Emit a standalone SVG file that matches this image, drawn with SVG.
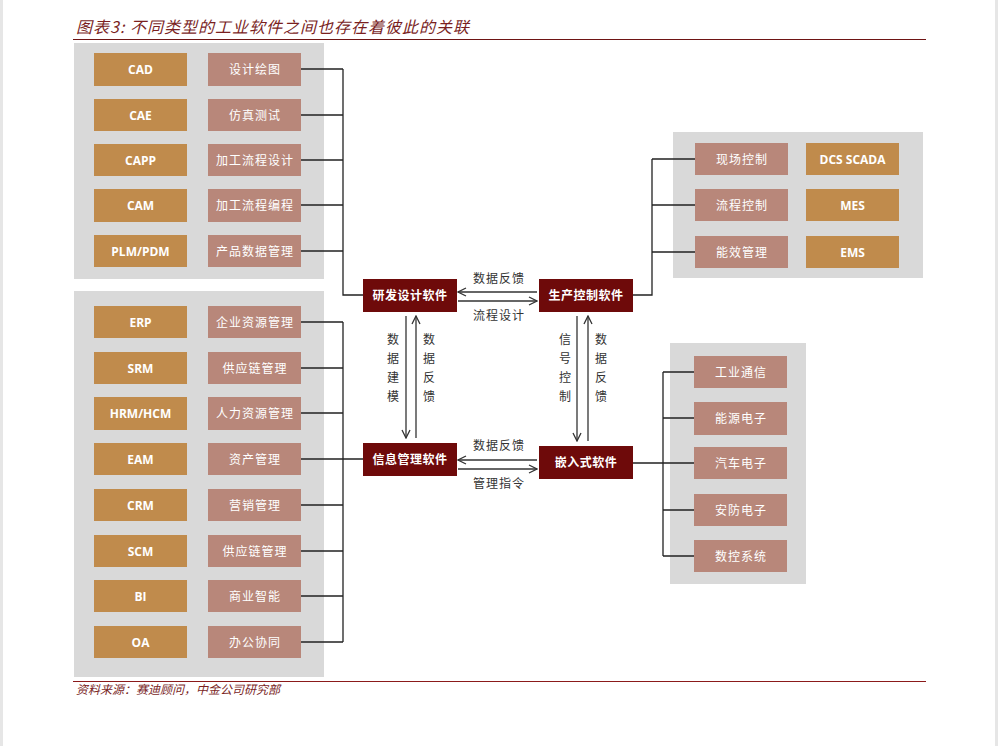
<svg xmlns="http://www.w3.org/2000/svg" width="998" height="746" viewBox="0 0 998 746">
<defs>
<marker id="ah" viewBox="0 0 10 10" refX="9" refY="5" markerWidth="10" markerHeight="10" markerUnits="userSpaceOnUse" orient="auto">
<path d="M1,1 L9,5 L1,9" fill="none" stroke="#333" stroke-width="1.3"/>
</marker>
<style>
.panel{fill:#D9D9D9}
.gold{fill:#C08B4C}
.rose{fill:#B8877A}
.core{fill:#6E0A0A}
.en{font-family:"Open Sans","Liberation Sans",sans-serif;font-weight:bold;font-size:12px;fill:#fff;text-anchor:middle}
.cn{font-family:"Noto Sans CJK SC",sans-serif;font-size:12px;fill:#fff;text-anchor:middle;letter-spacing:1px}
.cc{font-family:"Noto Sans CJK SC",sans-serif;font-weight:bold;font-size:12px;fill:#fff;text-anchor:middle;letter-spacing:0.5px}
.lb{font-family:"Noto Sans CJK SC",sans-serif;font-size:12px;fill:#333;text-anchor:middle;letter-spacing:1px}
.vl{font-family:"Noto Sans CJK SC",sans-serif;font-size:12px;fill:#333;text-anchor:middle}
.ln{fill:none;stroke:#222;stroke-width:1.3}
.ar{fill:none;stroke:#333;stroke-width:1.3;marker-end:url(#ah)}
.hd{font-family:"Noto Sans CJK SC",serif;font-style:italic;fill:#7A1F1F}
</style>
</defs>
<rect x="0" y="0" width="998" height="746" fill="#fff"/>
<rect x="0" y="0" width="3" height="746" fill="#E6E6E6"/>
<rect x="995" y="0" width="3" height="746" fill="#E6E6E6"/>

<g id="title">
<text class="hd" x="76" y="33" font-size="16" letter-spacing="1">图表3:  不同类型的工业软件之间也存在着彼此的关联</text>
<line x1="73" y1="39.5" x2="926" y2="39.5" stroke="#6E1414" stroke-width="1.2"/>
</g>

<g id="panel-design">
<rect class="panel" x="74" y="43" width="250" height="236"/>
<g id="n-cad"><rect class="gold" x="94" y="53" width="93" height="33"/><text class="en" x="140.5" y="74">CAD</text></g>
<g id="n-cae"><rect class="gold" x="94" y="99" width="93" height="32"/><text class="en" x="140.5" y="119.5">CAE</text></g>
<g id="n-capp"><rect class="gold" x="94" y="144" width="93" height="32"/><text class="en" x="140.5" y="164.5">CAPP</text></g>
<g id="n-cam"><rect class="gold" x="94" y="189" width="93" height="33"/><text class="en" x="140.5" y="210">CAM</text></g>
<g id="n-plm"><rect class="gold" x="94" y="235" width="93" height="32"/><text class="en" x="140.5" y="255.5">PLM/PDM</text></g>
<g id="n-sjht"><rect class="rose" x="208" y="53" width="93" height="33"/><text class="cn" x="255" y="74">设计绘图</text></g>
<g id="n-fzcs"><rect class="rose" x="208" y="99" width="93" height="32"/><text class="cn" x="255" y="119.5">仿真测试</text></g>
<g id="n-jglcsj"><rect class="rose" x="208" y="144" width="93" height="32"/><text class="cn" x="255" y="164.5">加工流程设计</text></g>
<g id="n-jglcbc"><rect class="rose" x="208" y="189" width="93" height="33"/><text class="cn" x="255" y="210">加工流程编程</text></g>
<g id="n-cpsjgl"><rect class="rose" x="208" y="235" width="93" height="32"/><text class="cn" x="255" y="255.5">产品数据管理</text></g>
</g>

<g id="panel-info">
<rect class="panel" x="74" y="291" width="250" height="386"/>
<g id="n-erp"><rect class="gold" x="94" y="306" width="93" height="32"/><text class="en" x="140.5" y="326.5">ERP</text></g>
<g id="n-srm"><rect class="gold" x="94" y="352" width="93" height="32"/><text class="en" x="140.5" y="372.5">SRM</text></g>
<g id="n-hrm"><rect class="gold" x="94" y="397" width="93" height="33"/><text class="en" x="140.5" y="418">HRM/HCM</text></g>
<g id="n-eam"><rect class="gold" x="94" y="443" width="93" height="32"/><text class="en" x="140.5" y="463.5">EAM</text></g>
<g id="n-crm"><rect class="gold" x="94" y="489" width="93" height="32"/><text class="en" x="140.5" y="509.5">CRM</text></g>
<g id="n-scm"><rect class="gold" x="94" y="535" width="93" height="32"/><text class="en" x="140.5" y="555.5">SCM</text></g>
<g id="n-bi"><rect class="gold" x="94" y="580" width="93" height="32"/><text class="en" x="140.5" y="600.5">BI</text></g>
<g id="n-oa"><rect class="gold" x="94" y="626" width="93" height="32"/><text class="en" x="140.5" y="646.5">OA</text></g>
<g id="n-qyzygl"><rect class="rose" x="208" y="306" width="93" height="32"/><text class="cn" x="255" y="326.5">企业资源管理</text></g>
<g id="n-gyl1"><rect class="rose" x="208" y="352" width="93" height="32"/><text class="cn" x="255" y="372.5">供应链管理</text></g>
<g id="n-rlzygl"><rect class="rose" x="208" y="397" width="93" height="33"/><text class="cn" x="255" y="418">人力资源管理</text></g>
<g id="n-zcgl"><rect class="rose" x="208" y="443" width="93" height="32"/><text class="cn" x="255" y="463.5">资产管理</text></g>
<g id="n-yxgl"><rect class="rose" x="208" y="489" width="93" height="32"/><text class="cn" x="255" y="509.5">营销管理</text></g>
<g id="n-gyl2"><rect class="rose" x="208" y="535" width="93" height="32"/><text class="cn" x="255" y="555.5">供应链管理</text></g>
<g id="n-syzn"><rect class="rose" x="208" y="580" width="93" height="32"/><text class="cn" x="255" y="600.5">商业智能</text></g>
<g id="n-bgxt"><rect class="rose" x="208" y="626" width="93" height="32"/><text class="cn" x="255" y="646.5">办公协同</text></g>
</g>

<g id="panel-control">
<rect class="panel" x="673" y="132" width="250" height="146"/>
<g id="n-xckz"><rect class="rose" x="695" y="143" width="93" height="32"/><text class="cn" x="742" y="163.5">现场控制</text></g>
<g id="n-lckz"><rect class="rose" x="695" y="189" width="93" height="32"/><text class="cn" x="742" y="209.5">流程控制</text></g>
<g id="n-nxgl"><rect class="rose" x="695" y="236" width="93" height="32"/><text class="cn" x="742" y="256.5">能效管理</text></g>
<g id="n-dcs"><rect class="gold" x="806" y="143" width="93" height="32"/><text class="en" x="852.5" y="163.5">DCS SCADA</text></g>
<g id="n-mes"><rect class="gold" x="806" y="189" width="93" height="32"/><text class="en" x="852.5" y="209.5">MES</text></g>
<g id="n-ems"><rect class="gold" x="806" y="236" width="93" height="32"/><text class="en" x="852.5" y="256.5">EMS</text></g>
</g>

<g id="panel-embedded">
<rect class="panel" x="670" y="343" width="136" height="241"/>
<g id="n-gytx"><rect class="rose" x="694" y="356" width="93" height="32"/><text class="cn" x="741" y="376.5">工业通信</text></g>
<g id="n-nydz"><rect class="rose" x="694" y="402" width="93" height="33"/><text class="cn" x="741" y="423">能源电子</text></g>
<g id="n-qcdz"><rect class="rose" x="694" y="447" width="93" height="32"/><text class="cn" x="741" y="467.5">汽车电子</text></g>
<g id="n-afdz"><rect class="rose" x="694" y="494" width="93" height="32"/><text class="cn" x="741" y="514.5">安防电子</text></g>
<g id="n-skxt"><rect class="rose" x="694" y="540" width="93" height="32"/><text class="cn" x="741" y="560.5">数控系统</text></g>
</g>

<g id="n-yfsj"><rect class="core" x="363" y="279" width="94" height="33"/><text class="cc" x="410" y="300">研发设计软件</text></g>
<g id="n-sckz"><rect class="core" x="539" y="279" width="94" height="33"/><text class="cc" x="586" y="300">生产控制软件</text></g>
<g id="n-xxgl"><rect class="core" x="363" y="443" width="94" height="33"/><text class="cc" x="410" y="464">信息管理软件</text></g>
<g id="n-qrs"><rect class="core" x="539" y="446" width="94" height="33"/><text class="cc" x="586" y="467">嵌入式软件</text></g>

<g id="connectors">
<path class="ln" d="M301,69 H343 M301,115 H343 M301,160 H343 M301,205 H343 M301,251 H343 M343,69 V295 H363"/>
<path class="ln" d="M695,159 H652 M695,205 H652 M695,252 H652 M652,159 V295 H633"/>
<path class="ln" d="M301,322 H343 M301,368 H343 M301,413 H343 M301,459 H343 M301,505 H343 M301,551 H343 M301,596 H343 M301,642 H343 M343,322 V642 M343,459 H363"/>
<path class="ln" d="M694,372 H663 M694,418 H663 M694,510 H663 M694,556 H663 M663,372 V556 M633,463 H694"/>
<line class="ar" x1="537" y1="292" x2="458" y2="292"/>
<line class="ar" x1="458" y1="301" x2="537" y2="301"/>
<line class="ar" x1="537" y1="460" x2="458" y2="460"/>
<line class="ar" x1="458" y1="469" x2="537" y2="469"/>
<line class="ar" x1="406" y1="316" x2="406" y2="438"/>
<line class="ar" x1="416" y1="438" x2="416" y2="316"/>
<line class="ar" x1="577" y1="316" x2="577" y2="441"/>
<line class="ar" x1="588" y1="441" x2="588" y2="316"/>
<text class="lb" x="499" y="283">数据反馈</text>
<text class="lb" x="499" y="320">流程设计</text>
<text class="lb" x="499" y="450">数据反馈</text>
<text class="lb" x="499" y="488">管理指令</text>
<text class="vl" x="393"><tspan x="393" y="344">数</tspan><tspan x="393" y="363">据</tspan><tspan x="393" y="382">建</tspan><tspan x="393" y="401">模</tspan></text>
<text class="vl" x="429"><tspan x="429" y="344">数</tspan><tspan x="429" y="363">据</tspan><tspan x="429" y="382">反</tspan><tspan x="429" y="401">馈</tspan></text>
<text class="vl" x="565"><tspan x="565" y="344">信</tspan><tspan x="565" y="363">号</tspan><tspan x="565" y="382">控</tspan><tspan x="565" y="401">制</tspan></text>
<text class="vl" x="601"><tspan x="601" y="344">数</tspan><tspan x="601" y="363">据</tspan><tspan x="601" y="382">反</tspan><tspan x="601" y="401">馈</tspan></text>
</g>

<g id="footer">
<line x1="73" y1="681.5" x2="926" y2="681.5" stroke="#8B1A1A" stroke-width="1.2"/>
<text class="hd" x="76" y="694" font-size="12">资料来源：赛迪顾问，中金公司研究部</text>
</g>
</svg>
